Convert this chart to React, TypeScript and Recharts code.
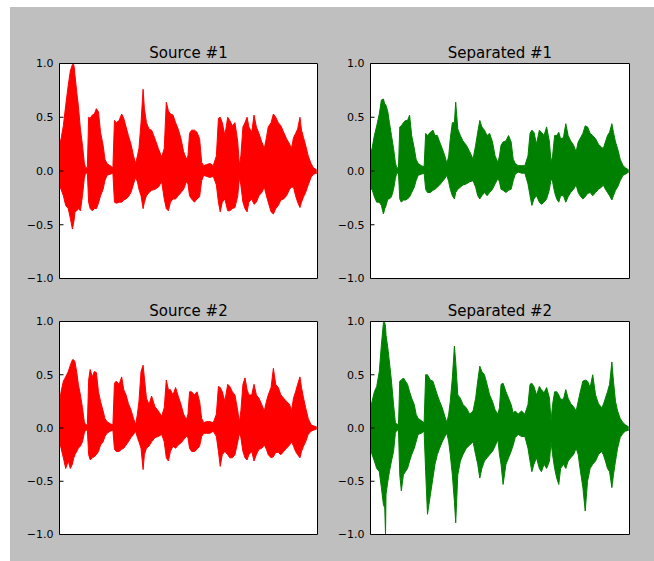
import { ComposedChart, Area, XAxis, YAxis, ReferenceArea } from 'recharts';

// position along the clip, percent of its length
const time = [
  0.1, 0.6, 1.5, 2.4, 3.4, 4.2, 5.0, 5.5, 5.8, 6.0,
  6.7, 7.3, 8.1, 8.9, 9.6, 10.1, 10.8, 11.3, 11.9, 12.7,
  13.5, 14.3, 15.1, 15.9, 16.9, 17.6, 18.4, 19.6, 20.7, 21.3,
  22.0, 23.1, 24.1, 24.9, 25.8, 26.7, 27.7, 28.7, 29.5, 30.2,
  30.8, 31.6, 32.4, 32.9, 33.7, 34.7, 35.7, 37.0, 38.3, 39.6,
  40.6, 41.4, 42.2, 43.0, 44.0, 45.0, 46.0, 47.1, 48.1, 49.2,
  49.8, 50.4, 51.2, 52.3, 53.3, 54.3, 55.1, 55.9, 57.0, 58.3,
  59.6, 60.8, 61.6, 62.3, 63.1, 64.1, 65.2, 66.0, 67.0, 68.0,
  69.1, 69.7, 70.3, 71.1, 71.9, 72.7, 73.4, 74.5, 75.4, 76.3,
  77.3, 78.4, 79.4, 80.2, 80.9, 82.0, 82.9, 83.8, 84.8, 85.8,
  86.9, 88.0, 89.2, 89.9, 90.7, 91.5, 92.3, 93.2, 93.8, 94.6,
  95.4, 96.4, 97.5, 98.4, 99.7,
];

// envelope of each signal (max / min amplitude around each position)
const source1Hi = [
  0.25, 0.30, 0.42, 0.61, 0.80, 0.93, 0.99, 0.99, 0.95,
  0.89, 0.73, 0.61, 0.39, 0.24, 0.08, 0.03, 0.03,
  0.50, 0.49, 0.52, 0.53, 0.58, 0.55, 0.36, 0.24, 0.11, 0.07, 0.05, 0.03,
  0.47, 0.45, 0.47, 0.53, 0.49, 0.41, 0.33, 0.25, 0.14, 0.07, 0.14, 0.21,
  0.45, 0.76, 0.58, 0.45, 0.39, 0.38, 0.30, 0.21, 0.13, 0.21,
  0.64, 0.56, 0.53, 0.52, 0.45, 0.39, 0.30, 0.18, 0.11, 0.14,
  0.35, 0.38, 0.38, 0.36, 0.30, 0.08, 0.05, 0.06, 0.07, 0.05,
  0.14, 0.49, 0.50, 0.45, 0.33, 0.50, 0.47, 0.42, 0.45, 0.27,
  0.05, 0.14, 0.41, 0.45, 0.50, 0.41, 0.36, 0.52, 0.41, 0.35,
  0.27, 0.21, 0.31, 0.41, 0.45, 0.53, 0.50, 0.45, 0.42, 0.36,
  0.30, 0.25, 0.21, 0.31, 0.35, 0.39, 0.50, 0.38, 0.31, 0.24,
  0.14, 0.07, 0.03, 0.01,
];
const source1Lo = [
  -0.15, -0.17, -0.23, -0.32, -0.35, -0.44, -0.54, -0.48, -0.43,
  -0.38, -0.37, -0.35, -0.37, -0.23, -0.07, -0.02, -0.02,
  -0.29, -0.35, -0.37, -0.35, -0.35, -0.30, -0.23, -0.17, -0.09, -0.04, -0.03, -0.02,
  -0.29, -0.30, -0.29, -0.29, -0.27, -0.26, -0.24, -0.20, -0.12, -0.06, -0.10, -0.17,
  -0.23, -0.35, -0.29, -0.23, -0.20, -0.18, -0.17, -0.15, -0.10, -0.26,
  -0.35, -0.37, -0.29, -0.26, -0.26, -0.23, -0.20, -0.17, -0.10, -0.12,
  -0.23, -0.26, -0.29, -0.26, -0.24, -0.09, -0.04, -0.05, -0.06, -0.05,
  -0.13, -0.29, -0.38, -0.29, -0.26, -0.37, -0.37, -0.35, -0.34, -0.23,
  -0.06, -0.13, -0.29, -0.35, -0.38, -0.29, -0.26, -0.31, -0.29, -0.23,
  -0.20, -0.15, -0.23, -0.29, -0.38, -0.40, -0.35, -0.32, -0.27, -0.26,
  -0.23, -0.17, -0.15, -0.15, -0.23, -0.29, -0.34, -0.29, -0.24, -0.20,
  -0.13, -0.06, -0.03, -0.02,
];

const separated1Hi = [
  0.18, 0.21, 0.33, 0.42, 0.53, 0.66, 0.67, 0.62, 0.62,
  0.61, 0.55, 0.45, 0.33, 0.21, 0.08, 0.03, 0.03,
  0.41, 0.42, 0.45, 0.47, 0.47, 0.52, 0.33, 0.21, 0.11, 0.07, 0.05, 0.04,
  0.35, 0.33, 0.36, 0.38, 0.33, 0.33, 0.27, 0.21, 0.14, 0.07, 0.14, 0.30,
  0.45, 0.45, 0.64, 0.39, 0.33, 0.28, 0.24, 0.18, 0.11, 0.24,
  0.36, 0.47, 0.41, 0.38, 0.33, 0.35, 0.27, 0.14, 0.08, 0.14,
  0.24, 0.27, 0.28, 0.33, 0.27, 0.11, 0.07, 0.05, 0.05, 0.05,
  0.14, 0.35, 0.38, 0.36, 0.25, 0.38, 0.36, 0.33, 0.41, 0.27,
  0.08, 0.14, 0.33, 0.33, 0.36, 0.30, 0.31, 0.44, 0.33, 0.28,
  0.24, 0.18, 0.27, 0.30, 0.35, 0.42, 0.41, 0.35, 0.33, 0.30,
  0.25, 0.22, 0.21, 0.27, 0.33, 0.36, 0.44, 0.36, 0.27, 0.21,
  0.11, 0.05, 0.03, 0.01,
];
const separated1Lo = [
  -0.17, -0.17, -0.24, -0.29, -0.29, -0.32, -0.40, -0.35, -0.34,
  -0.32, -0.26, -0.26, -0.24, -0.17, -0.07, -0.02, -0.02,
  -0.26, -0.29, -0.27, -0.27, -0.26, -0.24, -0.20, -0.15, -0.09, -0.04, -0.03, -0.02,
  -0.17, -0.20, -0.20, -0.18, -0.17, -0.15, -0.13, -0.10, -0.07, -0.04, -0.10, -0.17,
  -0.23, -0.26, -0.20, -0.17, -0.15, -0.13, -0.12, -0.10, -0.09, -0.15,
  -0.23, -0.26, -0.23, -0.20, -0.23, -0.20, -0.17, -0.12, -0.07, -0.10,
  -0.17, -0.18, -0.20, -0.18, -0.17, -0.09, -0.03, -0.01, -0.02, -0.02,
  -0.12, -0.23, -0.32, -0.26, -0.23, -0.29, -0.31, -0.29, -0.26, -0.17,
  -0.07, -0.10, -0.20, -0.26, -0.29, -0.23, -0.23, -0.29, -0.24, -0.20,
  -0.17, -0.13, -0.20, -0.23, -0.26, -0.24, -0.21, -0.20, -0.23, -0.20,
  -0.17, -0.15, -0.13, -0.17, -0.20, -0.23, -0.27, -0.23, -0.18, -0.15,
  -0.09, -0.04, -0.03, -0.01,
];

const source2Hi = [
  0.25, 0.34, 0.44, 0.48, 0.53, 0.59, 0.64, 0.64, 0.63,
  0.62, 0.52, 0.41, 0.31, 0.19, 0.06, 0.03, 0.03,
  0.45, 0.55, 0.48, 0.53, 0.52, 0.34, 0.25, 0.16, 0.09, 0.06, 0.04, 0.03,
  0.42, 0.44, 0.41, 0.48, 0.36, 0.31, 0.23, 0.17, 0.09, 0.03, 0.13, 0.25,
  0.53, 0.59, 0.47, 0.28, 0.22, 0.30, 0.20, 0.16, 0.11, 0.19,
  0.45, 0.36, 0.36, 0.31, 0.38, 0.30, 0.22, 0.13, 0.08, 0.13,
  0.34, 0.34, 0.31, 0.34, 0.25, 0.09, 0.05, 0.06, 0.06, 0.05,
  0.13, 0.39, 0.38, 0.34, 0.25, 0.41, 0.39, 0.34, 0.31, 0.16,
  0.05, 0.16, 0.41, 0.47, 0.36, 0.31, 0.31, 0.41, 0.31, 0.28,
  0.22, 0.16, 0.25, 0.31, 0.38, 0.56, 0.41, 0.38, 0.31, 0.28,
  0.25, 0.22, 0.16, 0.28, 0.34, 0.41, 0.48, 0.38, 0.28, 0.19,
  0.09, 0.03, 0.02, 0.01,
];
const source2Lo = [
  -0.13, -0.19, -0.28, -0.38, -0.31, -0.38, -0.34, -0.28, -0.27,
  -0.25, -0.22, -0.19, -0.17, -0.13, -0.05, -0.02, -0.02,
  -0.25, -0.30, -0.28, -0.27, -0.25, -0.22, -0.16, -0.13, -0.08, -0.05, -0.03, -0.02,
  -0.20, -0.22, -0.22, -0.20, -0.19, -0.16, -0.13, -0.09, -0.06, -0.03, -0.09, -0.13,
  -0.19, -0.39, -0.25, -0.19, -0.17, -0.13, -0.09, -0.08, -0.06, -0.13,
  -0.28, -0.31, -0.22, -0.17, -0.19, -0.16, -0.14, -0.11, -0.08, -0.09,
  -0.19, -0.22, -0.22, -0.20, -0.17, -0.08, -0.05, -0.05, -0.05, -0.03,
  -0.08, -0.22, -0.36, -0.25, -0.22, -0.25, -0.28, -0.28, -0.25, -0.13,
  -0.05, -0.09, -0.22, -0.28, -0.30, -0.25, -0.22, -0.31, -0.25, -0.20,
  -0.19, -0.16, -0.20, -0.25, -0.28, -0.27, -0.23, -0.23, -0.25, -0.22,
  -0.19, -0.16, -0.13, -0.17, -0.22, -0.25, -0.28, -0.22, -0.17, -0.13,
  -0.06, -0.03, -0.02, -0.01,
];

const separated2Hi = [
  0.19, 0.25, 0.34, 0.39, 0.53, 0.78, 0.99, 0.99, 0.95,
  0.87, 0.75, 0.62, 0.44, 0.22, 0.05, 0.04, 0.03,
  0.44, 0.45, 0.47, 0.44, 0.41, 0.34, 0.28, 0.22, 0.13, 0.09, 0.07, 0.05,
  0.50, 0.50, 0.45, 0.44, 0.38, 0.31, 0.25, 0.19, 0.11, 0.05, 0.13, 0.25,
  0.47, 0.77, 0.62, 0.31, 0.28, 0.22, 0.19, 0.13, 0.16, 0.28,
  0.44, 0.58, 0.53, 0.50, 0.41, 0.31, 0.25, 0.17, 0.13, 0.19,
  0.41, 0.42, 0.34, 0.28, 0.22, 0.14, 0.16, 0.13, 0.16, 0.13,
  0.22, 0.41, 0.42, 0.39, 0.31, 0.39, 0.36, 0.33, 0.38, 0.28,
  0.06, 0.22, 0.34, 0.34, 0.31, 0.27, 0.27, 0.36, 0.28, 0.23,
  0.20, 0.16, 0.25, 0.33, 0.44, 0.45, 0.44, 0.38, 0.50, 0.31,
  0.23, 0.19, 0.22, 0.28, 0.34, 0.41, 0.62, 0.44, 0.25, 0.16,
  0.09, 0.05, 0.03, 0.01,
];
const separated2Lo = [
  -0.19, -0.25, -0.31, -0.38, -0.41, -0.56, -0.72, -0.75, -1.0,
  -0.62, -0.50, -0.41, -0.31, -0.22, -0.05, -0.02, -0.02,
  -0.44, -0.59, -0.44, -0.41, -0.38, -0.31, -0.25, -0.19, -0.13, -0.06, -0.05, -0.03,
  -0.41, -0.81, -0.63, -0.47, -0.34, -0.25, -0.19, -0.13, -0.08, -0.05, -0.13, -0.25,
  -0.44, -0.69, -0.89, -0.44, -0.31, -0.25, -0.19, -0.16, -0.13, -0.25,
  -0.34, -0.47, -0.38, -0.31, -0.28, -0.25, -0.22, -0.17, -0.11, -0.25,
  -0.34, -0.53, -0.34, -0.28, -0.22, -0.16, -0.09, -0.06, -0.08, -0.08,
  -0.19, -0.31, -0.41, -0.34, -0.28, -0.38, -0.41, -0.34, -0.38, -0.31,
  -0.13, -0.25, -0.38, -0.47, -0.53, -0.38, -0.34, -0.38, -0.31, -0.28,
  -0.25, -0.19, -0.25, -0.38, -0.56, -0.78, -0.50, -0.38, -0.34, -0.31,
  -0.25, -0.22, -0.25, -0.31, -0.38, -0.41, -0.56, -0.44, -0.31, -0.19,
  -0.09, -0.05, -0.03, -0.02,
];

const yTicks = [-1, -0.5, 0, 0.5, 1];

const FONT = '"DejaVu Sans", sans-serif';

const fmtTick = (v: number) => (v < 0 ? '\u2212' + Math.abs(v).toFixed(1) : v.toFixed(1));

interface PanelProps {
  title: string;
  hi: number[];
  lo: number[];
  color: string;
  left: number; // plot frame left (px, page)
  top: number;
  plotW: number;
  plotH: number;
}

function Panel({ title, hi, lo, color, left, top, plotW, plotH }: PanelProps) {
  const data = time.map((t, i) => ({ t, range: [lo[i], hi[i]] }));
  return (
    <>
      <div
        style={{
          position: 'absolute',
          left,
          top: top - 17.5,
          width: plotW,
          textAlign: 'center',
          fontFamily: FONT,
          fontSize: 15,
          lineHeight: '15px',
          color: '#000',
        }}
      >
        {title}
      </div>
      {/* white axes face */}
      <div
        style={{
          position: 'absolute',
          left: left - 0.5,
          top: top - 0.5,
          width: plotW + 1,
          height: plotH + 1,
          background: '#fff',
        }}
      />
      <div style={{ position: 'absolute', left: left - 50.5, top: top - 10.5 }}>
        <ComposedChart
          width={plotW + 60}
          height={plotH + 21}
          data={data}
          margin={{ top: 10.5, right: 9.5, bottom: 10.5, left: 0.5 }}
        >
          <XAxis dataKey="t" type="number" domain={[0, 100]} hide />
          <YAxis
            domain={[-1, 1]}
            ticks={yTicks}
            allowDataOverflow
            interval={0}
            width={50}
            axisLine={false}
            tickSize={-4}
            tickMargin={10}
            tickLine={{ stroke: '#000' }}
            tickFormatter={fmtTick}
            tick={{ fill: '#000', fontSize: 11, fontFamily: FONT }}
          />
          <YAxis
            yAxisId="right"
            orientation="right"
            domain={[-1, 1]}
            ticks={yTicks}
            allowDataOverflow
            interval={0}
            width={0}
            axisLine={false}
            tickSize={-4}
            tickLine={{ stroke: '#000' }}
            tick={false}
          />
          <Area
            type="linear"
            dataKey="range"
            stroke={color}
            strokeWidth={1}
            fill={color}
            fillOpacity={1}
            dot={false}
            activeDot={false}
            isAnimationActive={false}
          />
          <ReferenceArea
            x1={0}
            x2={100}
            y1={-1}
            y2={1}
            fill="none"
            stroke="#000"
            strokeWidth={1}
            ifOverflow="visible"
          />
        </ComposedChart>
      </div>
    </>
  );
}

export default function App() {
  return (
    <div style={{ position: 'absolute', left: 0, top: 0, width: 654, height: 561, background: '#fff', overflow: 'hidden' }}>
      <div style={{ position: 'absolute', left: 10, top: 7, width: 644, height: 554, background: '#bfbfbf' }} />
      <Panel title="Source #1" hi={source1Hi} lo={source1Lo} color="#ff0000" left={59.5} top={63.5} plotW={258} plotH={215} />
      <Panel title="Separated #1" hi={separated1Hi} lo={separated1Lo} color="#008000" left={370.5} top={63.5} plotW={259} plotH={215} />
      <Panel title="Source #2" hi={source2Hi} lo={source2Lo} color="#ff0000" left={59.5} top={321.5} plotW={258} plotH={213} />
      <Panel title="Separated #2" hi={separated2Hi} lo={separated2Lo} color="#008000" left={370.5} top={321.5} plotW={259} plotH={213} />
    </div>
  );
}
